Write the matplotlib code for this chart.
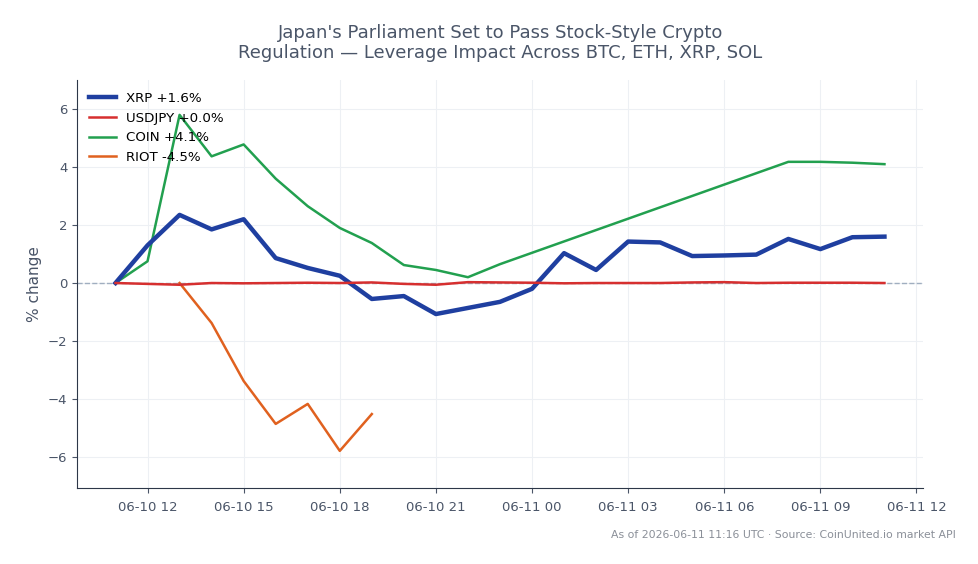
import matplotlib
matplotlib.use("Agg")
import matplotlib.pyplot as plt
import matplotlib.dates as mdates
import pandas as pd

# hourly timestamps, 06-10 11:00 .. 06-11 11:00 UTC
times = pd.date_range("2026-06-10 11:00", "2026-06-11 11:00", freq="h")

xrp = [0.0, 1.3, 2.35, 1.85, 2.2, 0.86, 0.52, 0.25, -0.55, -0.45, -1.07, -0.86,
       -0.65, -0.2, 1.03, 0.45, 1.43, 1.4, 0.93, 0.95, 0.98, 1.52, 1.17, 1.58, 1.6]
usdjpy = [0.0, -0.03, -0.06, 0.0, -0.01, 0.0, 0.01, 0.0, 0.02, -0.03, -0.06, 0.03,
          0.02, 0.01, -0.01, 0.0, 0.0, 0.0, 0.02, 0.03, 0.0, 0.01, 0.01, 0.01, 0.0]

# COIN has a gap in the feed between 23:00 and 08:00
coin_times = list(times[:13]) + list(times[21:])
coin = [0.0, 0.75, 5.8, 4.37, 4.78, 3.6, 2.65, 1.9, 1.38, 0.62, 0.45, 0.2, 0.65,
        4.18, 4.18, 4.15, 4.1]

riot_times = times[2:9]
riot = [0.0, -1.38, -3.38, -4.86, -4.17, -5.79, -4.52]

text_col = "#4a5568"

fig = plt.figure(figsize=(9.79, 5.64), dpi=100)
ax = fig.add_axes([0.0787, 0.1348, 0.864, 0.7232])

ax.axhline(0, color="#a0aec0", lw=1, ls="--", zorder=1)
ax.plot(times, xrp, color="#1f3fa0", lw=3.2, label="XRP +1.6%", zorder=3)
ax.plot(times, usdjpy, color="#d62f2f", lw=1.8, label="USDJPY +0.0%", zorder=4)
ax.plot(coin_times, coin, color="#22a04f", lw=1.8, label="COIN +4.1%", zorder=2)
ax.plot(riot_times, riot, color="#e0611f", lw=1.8, label="RIOT -4.5%", zorder=2)

ax.set_ylim(-7.07, 7.0)
ax.set_yticks([-6, -4, -2, 0, 2, 4, 6])
ax.xaxis.set_major_locator(mdates.HourLocator(byhour=[0, 3, 6, 9, 12, 15, 18, 21]))
ax.xaxis.set_major_formatter(mdates.DateFormatter("%m-%d %H"))

ax.grid(True, color="#edf0f4", lw=0.8)
ax.set_axisbelow(True)
for s in ["top", "right"]:
    ax.spines[s].set_visible(False)
for s in ["left", "bottom"]:
    ax.spines[s].set_color("#2d3748")
ax.tick_params(colors=text_col, labelsize=9.5)
ax.tick_params(axis="x", pad=6)
ax.set_ylabel("% change", color=text_col, fontsize=11)

ax.legend(loc="upper left", frameon=False, fontsize=9.6)

fig.suptitle("Japan's Parliament Set to Pass Stock-Style Crypto\n"
             "Regulation \u2014 Leverage Impact Across BTC, ETH, XRP, SOL",
             color=text_col, fontsize=13, x=0.511, y=0.958)
fig.text(0.976, 0.052, "As of 2026-06-11 11:16 UTC \u00b7 Source: CoinUnited.io market API",
         ha="right", va="center", color="#8a8f98", fontsize=7.8)

fig.savefig("out.png", dpi=100)
